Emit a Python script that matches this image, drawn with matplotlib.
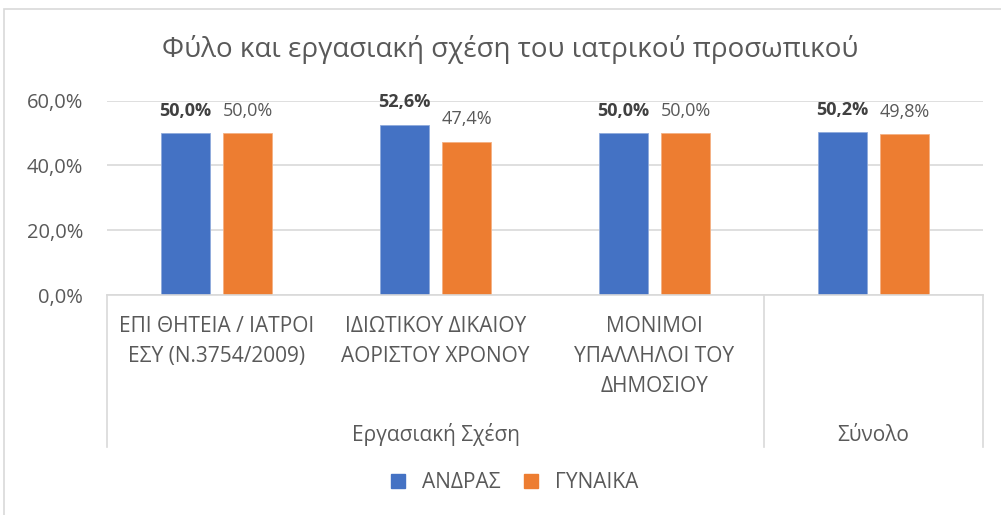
import matplotlib.pyplot as plt
import matplotlib.lines as mlines
import matplotlib.patches as mpatches
import numpy as np

plt.rcParams['font.family'] = ['Open Sans', 'DejaVu Sans']

categories = ['ΕΠΙ ΘΗΤΕΙΑ / ΙΑΤΡΟΙ\nΕΣΥ (Ν.3754/2009)',
              'ΙΔΙΩΤΙΚΟΥ ΔΙΚΑΙΟΥ\nΑΟΡΙΣΤΟΥ ΧΡΟΝΟΥ',
              'ΜΟΝΙΜΟΙ\nΥΠΑΛΛΗΛΟΙ ΤΟΥ\nΔΗΜΟΣΙΟΥ',
              '']
groups = ['Εργασιακή Σχέση', 'Σύνολο']
group_spans = [(0, 3), (3, 4)]
men = [0.500, 0.526, 0.500, 0.502]
women = [0.500, 0.474, 0.500, 0.498]
series_names = ['ΑΝΔΡΑΣ', 'ΓΥΝΑΙΚΑ']
yticks = [0.0, 0.2, 0.4, 0.6]

blue = '#4472C4'
orange = '#ED7D31'
grid = '#D9D9D9'
txt = '#595959'


def pct(v):
    return ('%.1f%%' % (v * 100)).replace('.', ',')


W, H = 1001, 515
fig = plt.figure(figsize=(W / 100, H / 100), dpi=100)


def fy(py):
    return (H - py) / H


# outer chart border
fig.patches.append(mpatches.Rectangle((4 / W, -0.05), 1.1, fy(9) + 0.05,
                                      transform=fig.transFigure, fill=False,
                                      edgecolor=grid, linewidth=1.2))

x0, x1, ytop, ybot = 107, 983, 100.7, 295
ax = fig.add_axes([x0 / W, fy(ybot), (x1 - x0) / W, (ybot - ytop) / H])
ax.set_xlim(0, 4)
ax.set_ylim(0, 0.6)
for s in ax.spines.values():
    s.set_visible(False)
ax.set_yticks(yticks)
ax.yaxis.set_major_formatter(plt.FuncFormatter(lambda v, p: pct(v)))
ax.tick_params(axis='y', length=0, pad=17.3, labelsize=14.5, labelcolor=txt)
ax.set_xticks([])
ax.grid(axis='y', color=grid, linewidth=1.2)
ax.set_axisbelow(True)

x = np.arange(len(men)) + 0.5
bw = 0.224
off = 0.142
ax.bar(x - off, men, bw, color=blue, edgecolor='#8FAADC', linewidth=0.6, zorder=3)
ax.bar(x + off, women, bw, color=orange, edgecolor='#F4B183', linewidth=0.6, zorder=3)

for xi, v in zip(x, men):
    ax.annotate(pct(v), (xi - off, v), xytext=(0, 16), textcoords='offset points',
                ha='center', va='center', fontsize=13, fontweight='bold', color='#404040')
for xi, v in zip(x, women):
    ax.annotate(pct(v), (xi + off, v), xytext=(0, 16), textcoords='offset points',
                ha='center', va='center', fontsize=13, color=txt)

# axis baseline and multi-level category boxes
trans_fig = fig.transFigure
fig.lines.append(mlines.Line2D([x0 / W, x1 / W], [fy(ybot), fy(ybot)], transform=trans_fig,
                               color=grid, linewidth=1.2))
for xb in [0, 3, 4]:
    px = x0 + xb / 4 * (x1 - x0)
    fig.lines.append(mlines.Line2D([px / W, px / W], [fy(ybot), fy(447)], transform=trans_fig,
                                   color=grid, linewidth=1.2))

for xi, lab in zip(x, categories):
    px = x0 + xi / 4 * (x1 - x0)
    for i, line in enumerate(lab.split('\n')):
        fig.text(px / W, fy(332 + 30 * i), line, ha='center', va='baseline',
                 fontsize=15, color=txt)

for (a, b), g in zip(group_spans, groups):
    px = x0 + (a + b) / 2 / 4 * (x1 - x0)
    fig.text(px / W, fy(441), g, ha='center', va='baseline', fontsize=15, color=txt)

fig.text(510.5 / W, fy(50), 'Φύλο και εργασιακή σχέση του ιατρικού προσωπικού',
         ha='center', va='center', fontsize=20, color=txt)

handles = [mpatches.Patch(color=blue), mpatches.Patch(color=orange)]
fig.legend(handles, series_names, loc='center', bbox_to_anchor=(514.5 / W, fy(483)),
           ncol=2, frameon=False, fontsize=15, labelcolor=txt, borderpad=0,
           handlelength=0.67, handleheight=0.67, handletextpad=0.82, columnspacing=1.1)

fig.savefig('out.png', dpi=100)
